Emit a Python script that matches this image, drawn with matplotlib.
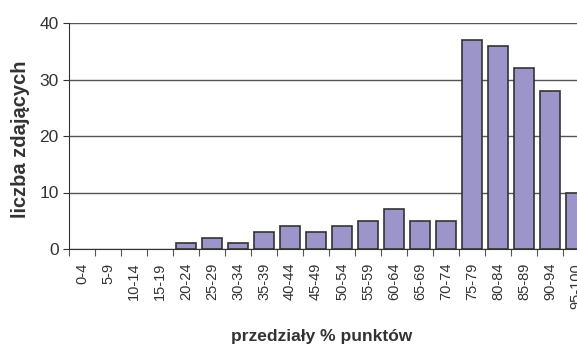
import matplotlib
matplotlib.use("Agg")
import matplotlib.pyplot as plt

plt.rcParams['font.family'] = ['Liberation Sans', 'DejaVu Sans']

przedzialy = ["0-4", "5-9", "10-14", "15-19", "20-24", "25-29", "30-34", "35-39",
              "40-44", "45-49", "50-54", "55-59", "60-64", "65-69", "70-74",
              "75-79", "80-84", "85-89", "90-94", "95-100"]
liczba = [0, 0, 0, 0, 1, 2, 1, 3, 4, 3, 4, 5, 7, 5, 5, 37, 36, 32, 28, 10]

fig = plt.figure(figsize=(5.77, 3.49), dpi=100)
# axes runs past the right edge, so the last bar is cut like in the original
ax = fig.add_axes([69 / 577, 100 / 349, 520 / 577, 226 / 349])

x = list(range(len(liczba)))
# empty intervals have no visible bar in the original
xs = [i for i in x if liczba[i] > 0]
ys = [liczba[i] for i in xs]
ax.bar(xs, ys, width=0.8, color='#9b95c9', edgecolor='#333333', linewidth=1.2, zorder=3)

ax.set_xlim(-0.5, len(liczba) - 0.5)
ax.set_ylim(0, 40)
ax.set_yticks([0, 10, 20, 30, 40])
ax.yaxis.grid(True, color='#555555', linewidth=1, zorder=0)

ax.set_xticks([i - 0.5 for i in x], minor=False)
ax.set_xticklabels([])
ax.set_xticks(x, minor=True)
ax.set_xticklabels(przedzialy, minor=True, rotation=90, fontsize=10.5, color='#333333')
ax.tick_params(axis='x', which='major', length=5, color='#555555')
ax.tick_params(axis='x', which='minor', length=0, pad=10)
ax.tick_params(axis='y', length=4, labelsize=12.5, colors='#333333')

for s in ['top', 'right']:
    ax.spines[s].set_visible(False)
ax.spines['left'].set_color('#333333')
ax.spines['bottom'].set_color('#333333')

fig.text(21 / 577, 1 - 139 / 349, "liczba zdających", rotation=90, fontsize=14.5,
         fontweight='bold', color='#333333', ha='center', va='center')
fig.text(322 / 577, 1 - 337 / 349, "przedziały % punktów", fontsize=12.5,
         fontweight='bold', color='#333333', ha='center', va='center')

fig.savefig("out.png", dpi=100)
